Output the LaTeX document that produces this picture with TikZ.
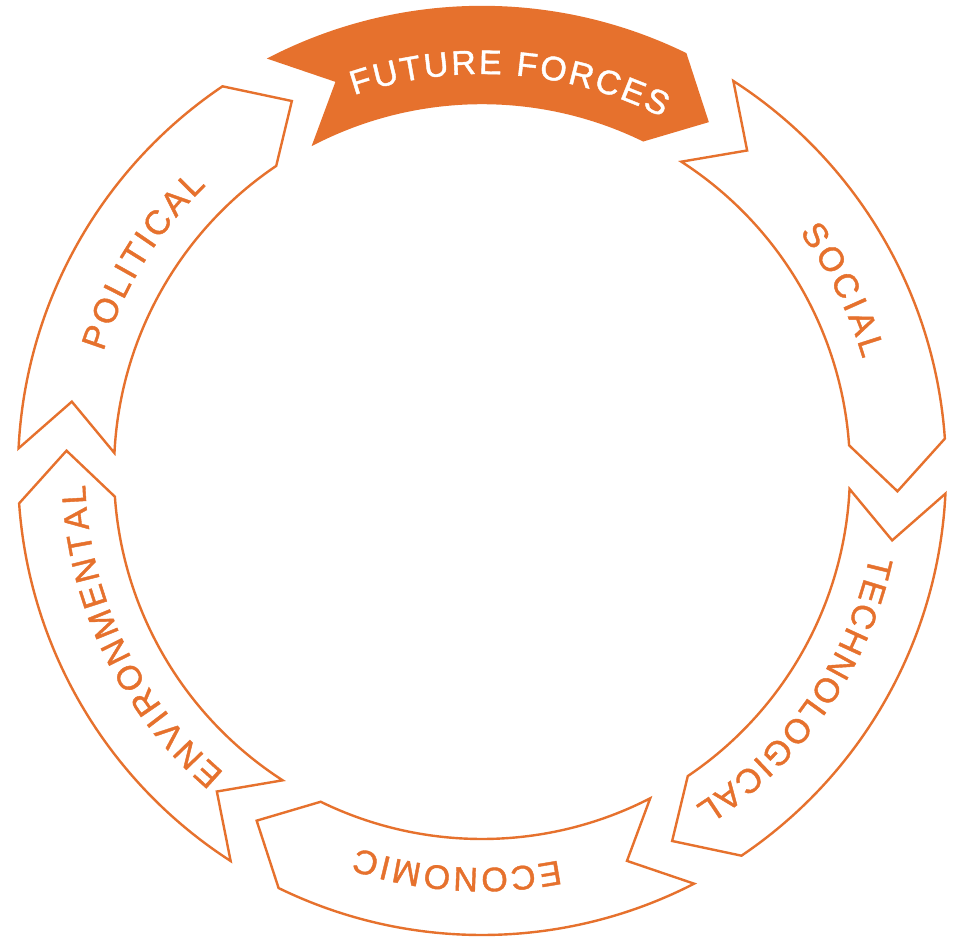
\documentclass[tikz,border=0pt]{standalone}
\usepackage{fontspec}
\newfontfamily\lblfont[FakeBold=1.2]{Liberation Sans}
\usetikzlibrary{decorations.text}
\definecolor{forceorange}{RGB}{230,113,45}

\begin{document}
\begin{tikzpicture}[
  % outlined force segment
  forceband/.style={draw=forceorange, line width=2.4pt, line join=miter, fill=white},
  % highlighted (filled) segment
  hotband/.style={draw=forceorange, fill=forceorange, line width=2.4pt, line join=miter},
  % lettering set along an arc
  arclabel/.style={decorate, decoration={text along path, text align=fit to path, text={#1}}},
]
\useasboundingbox (-482pt,-466pt) rectangle (473pt,471pt);

% six curved arrows around the ring, running clockwise;
% each spans from its notched tail (angle \T) to its head base (angle \H)
\foreach \k/\sty in {0/hotband,1/forceband,2/forceband,3/forceband,4/forceband,5/forceband}{
  \pgfmathsetmacro\T{117.2-60*\k}
  \pgfmathsetmacro\Tn{\T-6.8}
  \pgfmathsetmacro\H{64-60*\k}
  \pgfmathsetmacro\Ht{\H-6.8}
  \draw[\sty] (\T:464pt) arc[start angle=\T, end angle=\H, radius=464pt]
    -- (\Ht:416pt) coordinate (tip\k)
    -- (\H:368pt) arc[start angle=\H, end angle=\T, radius=368pt]
    -- (\Tn:416pt) coordinate (notch\k) -- cycle;
}

% labels, baseline on an inner arc, letters facing outward
\path[arclabel={|\lblfont\fontsize{34}{36}\selectfont\color{white}|FUTURE FORCES}]
  (108.8:397pt) arc[start angle=108.8, end angle=63.0, radius=397pt];
\path[arclabel={|\lblfont\fontsize{34}{36}\selectfont\color{forceorange}|SOCIAL}]
  (36.9:397pt) arc[start angle=36.9, end angle=16.4, radius=397pt];
\path[arclabel={|\lblfont\fontsize{34}{36}\selectfont\color{forceorange}|TECHNOLOGICAL}]
  (-12.3:397pt) arc[start angle=-12.3, end angle=-57.5, radius=397pt];
\path[arclabel={|\lblfont\fontsize{34}{36}\selectfont\color{forceorange}|ECONOMIC}]
  (-78.8:397pt) arc[start angle=-78.8, end angle=-108.3, radius=397pt];
\path[arclabel={|\lblfont\fontsize{34}{36}\selectfont\color{forceorange}|ENVIRONMENTAL}]
  (229.5:397pt) arc[start angle=229.5, end angle=182, radius=397pt];
\path[arclabel={|\lblfont\fontsize{34}{36}\selectfont\color{forceorange}|POLITICAL}]
  (162.5:397pt) arc[start angle=162.5, end angle=134, radius=397pt];
\end{tikzpicture}
\end{document}
